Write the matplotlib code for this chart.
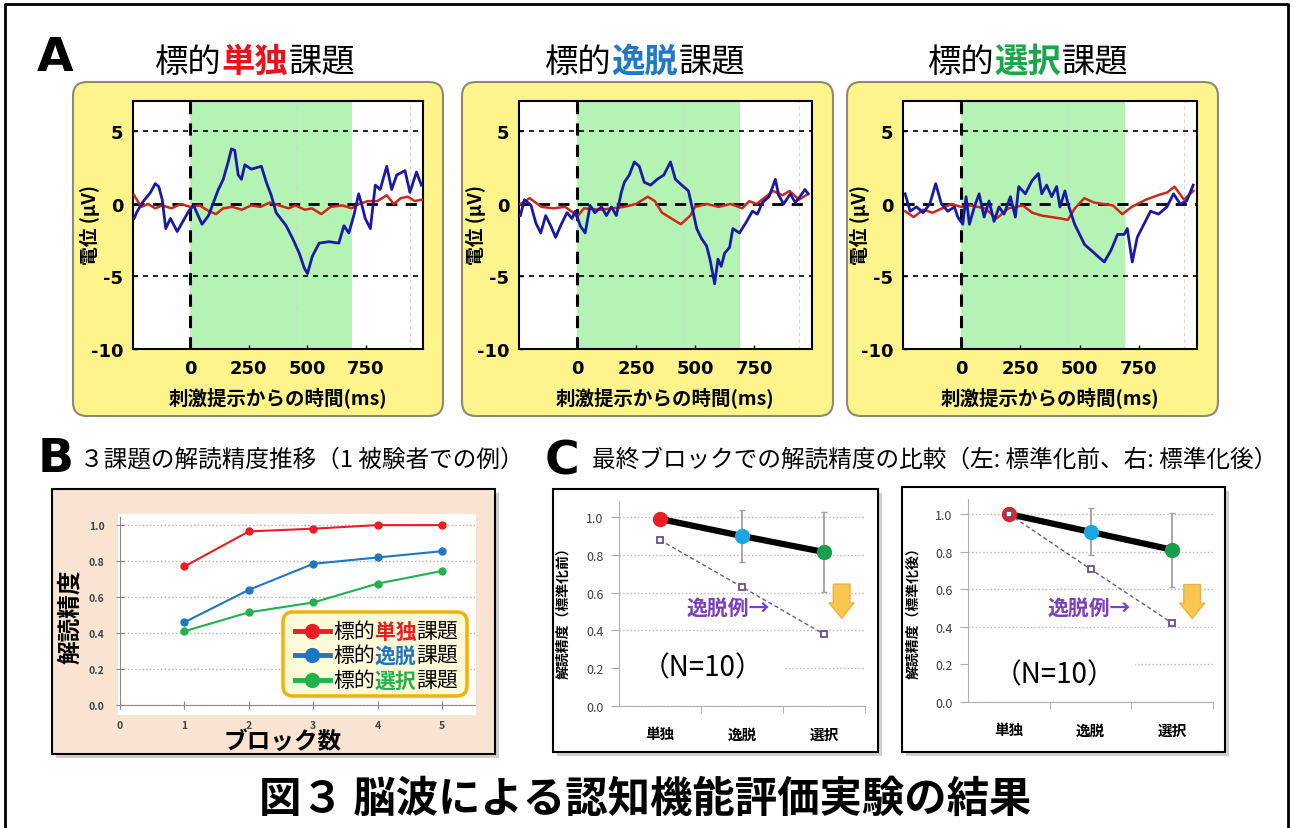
import matplotlib

matplotlib.use("Agg")
import matplotlib.pyplot as plt
from matplotlib import font_manager
from matplotlib.patches import FancyBboxPatch, Rectangle

W, H = 1293, 829
plt.rcParams['font.family'] = ['Noto Sans CJK JP', 'DejaVu Sans']
plt.rcParams['axes.unicode_minus'] = False

_installed = {f.name for f in font_manager.fontManager.ttflist}
NUM_FONT = 'Liberation Sans Narrow' if 'Liberation Sans Narrow' in _installed else 'DejaVu Sans'

# ---------------- data ----------------
# Panel A: averaged waveforms, time (ms) / potential (uV)
t_single_blue = [-240, -230, -205, -170, -150, -135, -120, -105, -85, -56, -35, -7, 14, 50, 78, 99, 120,
                 141, 162, 176, 190, 205, 219, 233, 261, 304, 325, 346, 367, 410, 438, 466, 487, 501,
                 522, 551, 593, 635, 657, 678, 699, 720, 734, 748, 770, 791, 812, 840, 861, 883, 918,
                 939, 967, 988]
v_single_blue = [-1.0, -0.6, 0.1, 0.8, 1.4, 1.2, 0.3, -1.7, -1.0, -1.9, -1.3, -0.5, -0.1, -1.4, -0.8,
                 0.1, 1.0, 1.7, 2.9, 3.8, 3.7, 2.0, 1.7, 2.7, 2.4, 2.6, 1.5, 0.6, -0.6, -1.5, -2.4,
                 -3.4, -4.4, -4.8, -3.6, -2.7, -2.6, -2.7, -1.5, -2.0, -0.8, 0.7, -0.1, -1.0, -1.7,
                 1.3, 1.0, 2.6, 1.0, 2.0, 2.3, 0.8, 2.2, 1.3]
t_single_red = [-240, -210, -180, -150, -120, -80, -40, 0, 40, 80, 110, 140, 180, 220, 260, 300, 340,
                380, 420, 450, 490, 520, 560, 600, 650, 690, 720, 760, 800, 840, 870, 900, 930, 960, 990]
v_single_red = [0.6, -0.2, 0.0, -0.3, -0.1, -0.3, 0.0, -0.2, -0.1, -0.5, -0.7, -0.3, -0.2, -0.4, -0.1,
                -0.2, 0.1, -0.1, -0.3, -0.1, -0.4, -0.3, -0.7, -0.2, -0.1, -0.3, 0.0, 0.2, 0.2, 0.6,
                0.0, 0.4, 0.5, 0.2, 0.3]

t_deviant_blue = [-239, -222, -194, -174, -153, -132, -111, -90, -69, -42, -21, -7, 14, 35, 56, 76, 104,
                  125, 146, 167, 188, 201, 222, 243, 264, 285, 312, 340, 368, 396, 417, 444, 472, 486,
                  507, 528, 549, 563, 583, 597, 611, 625, 646, 660, 688, 715, 743, 764, 785, 813, 840,
                  854, 875, 903, 924, 944, 965, 979]
v_deviant_blue = [-0.8, 0.3, -0.1, -1.3, -2.0, -0.8, -1.5, -2.3, -1.5, -0.6, -1.0, -0.5, -1.5, -2.0,
                  -0.1, -0.6, -0.2, -0.8, -0.2, -0.8, 0.8, 1.5, 2.0, 2.9, 2.6, 1.5, 1.3, 1.7, 2.0, 2.9,
                  1.7, 1.3, 0.9, -0.1, -1.7, -2.4, -2.9, -3.8, -5.5, -3.8, -4.3, -3.4, -3.0, -1.7,
                  -2.0, -1.3, -0.5, -0.7, 0.1, 0.5, 1.7, 0.6, 0.0, 0.7, 0.1, 0.5, 1.0, 0.7]
t_deviant_red = [-239, -200, -150, -100, -50, -15, 0, 30, 100, 200, 250, 300, 330, 360, 400, 440, 480,
                 500, 550, 600, 650, 700, 730, 760, 800, 830, 870, 900, 940, 970]
v_deviant_red = [0.0, 0.4, -0.2, -0.3, -0.2, -0.6, -0.9, -0.3, -0.4, -0.2, 0.0, 0.5, 0.2, -0.6, -1.0,
                 -1.4, -0.8, -0.2, 0.0, -0.2, 0.0, -0.3, 0.2, 0.0, 0.5, 0.9, 0.6, 0.9, 0.3, 0.6]

t_select_blue = [-236, -215, -188, -160, -132, -107, -83, -56, -28, -14, 7, 21, 35, 56, 76, 97, 118,
                 139, 160, 181, 208, 229, 243, 271, 299, 326, 340, 361, 382, 403, 417, 438, 451, 479,
                 500, 521, 549, 576, 604, 632, 660, 688, 701, 722, 743, 771, 799, 833, 868, 896, 924,
                 951, 979]
v_select_blue = [0.7, -0.5, -0.2, -0.6, 0.0, 1.4, 0.0, -0.5, -0.2, -0.9, -1.4, 0.5, -1.4, -0.2, 0.7,
                 -0.9, 0.2, -1.2, -0.2, -0.7, 0.5, -0.9, 1.2, 0.7, 1.6, 2.1, 0.7, 1.3, 0.5, 1.2, -0.2,
                 0.9, 0.0, -1.4, -2.1, -2.8, -3.2, -3.6, -4.0, -3.2, -2.1, -2.1, -1.7, -4.0, -2.3,
                 -1.4, -0.5, -0.7, -0.2, 0.7, 0.0, 0.2, 1.3]
t_select_red = [-236, -200, -160, -120, -80, -40, 0, 40, 100, 150, 200, 260, 300, 340, 380, 420, 450,
                480, 520, 560, 600, 640, 680, 720, 780, 830, 870, 900, 940, 980]
v_select_red = [-0.5, -0.9, -0.4, -0.6, -0.3, 0.0, -0.2, -0.1, -0.3, -1.0, -0.3, -0.1, -0.6, -0.8,
                -0.9, -1.0, -1.1, -0.3, 0.4, 0.1, 0.0, -0.1, -0.7, -0.2, 0.3, 0.6, 0.8, 1.2, 0.3, 0.9]

# Panel B: decoding accuracy per block (one subject)
blocks = [1, 2, 3, 4, 5]
acc_single = [0.77, 0.965, 0.98, 1.0, 1.0]
acc_deviant = [0.46, 0.64, 0.785, 0.82, 0.855]
acc_select = [0.41, 0.515, 0.57, 0.675, 0.745]

# Panel C: final-block accuracy (N=10), before / after normalisation
tasks = ['単独', '逸脱', '選択']
before_mean = [0.99, 0.9, 0.815]
before_err = [0.0, 0.137, 0.21]
before_example = [0.878, 0.63, 0.38]
after_mean = [1.0, 0.905, 0.81]
after_err = [0.0, 0.125, 0.197]
after_example = [1.0, 0.707, 0.42]

RED, BLUE, GREEN = '#e8141c', '#1f78c8', '#1aa74a'

fig = plt.figure(figsize=(W / 100, H / 100), dpi=100)


def px_axes(x0, y0, x1, y1):
    return fig.add_axes([x0 / W, 1 - y1 / H, (x1 - x0) / W, (y1 - y0) / H])


def px_canvas():
    ax = fig.add_axes([0, 0, 1, 1])
    ax.set_xlim(0, W)
    ax.set_ylim(H, 0)
    ax.axis('off')
    return ax


# background: frame, rounded boxes, shadows
bg = px_canvas()
bg.plot([5, 5, 1288, 1288], [829, 5, 5, 829], color='black', lw=2)
for x0, x1 in [(73, 443), (462, 833), (847, 1218)]:
    bg.add_patch(FancyBboxPatch((x0, 83), x1 - x0, 334, boxstyle='round,pad=0,rounding_size=14',
                                fc='#fdf58c', ec='#8f8a70', lw=1.5))
for (x0, y0, x1, y1), fc in [((52, 490, 495, 755), '#f9e4d2'), ((553, 490, 878, 753), 'white'),
                             ((902, 488, 1225, 753), 'white')]:
    bg.add_patch(Rectangle((x0 + 4, y0 + 4), x1 - x0, y1 - y0, fc='#b0b0b0', ec='none', alpha=0.6))
    bg.add_patch(Rectangle((x0, y0), x1 - x0, y1 - y0, fc=fc, ec='black', lw=1.5))
bg.add_patch(Rectangle((118, 515), 358, 201, fc='white', ec='none'))


# ---------------- panel A ----------------
def draw_erp(ax, tb, vb, tr, vr):
    ax.axvspan(0, 690, color='#b4f3b4', lw=0, zorder=0)
    for xv in (450, 940):
        ax.axvline(xv, color='#d5d5d5', ls=(0, (3, 3)), lw=0.8, zorder=0.5)
    for yv in (5, -5):
        ax.axhline(yv, color='black', ls=(0, (3, 3)), lw=1.2, zorder=1)
    ax.axhline(0, color='black', ls=(0, (4, 3)), lw=2, zorder=1)
    ax.axvline(0, color='black', ls=(0, (4, 3)), lw=2.2, zorder=1)
    ax.plot(tr, vr, color='#d02818', lw=1.8, zorder=3)
    ax.plot(tb, vb, color='#1a1aa6', lw=2, zorder=4)
    ax.set_xlim(-245, 995)
    ax.set_ylim(-10, 7.1)
    ax.set_xticks([0, 250, 500, 750])
    ax.set_yticks([-10, -5, 0, 5])
    ax.tick_params(direction='in', length=3, width=1, pad=7)
    for lab in ax.get_xticklabels() + ax.get_yticklabels():
        lab.set_fontfamily(NUM_FONT)
        lab.set_fontweight('bold')
        lab.set_fontsize(13)
    for s in ax.spines.values():
        s.set_linewidth(1.5)


draw_erp(px_axes(133, 102, 423, 350), t_single_blue, v_single_blue, t_single_red, v_single_red)
draw_erp(px_axes(519, 102, 812, 350), t_deviant_blue, v_deviant_blue, t_deviant_red, v_deviant_red)
draw_erp(px_axes(903, 102, 1197, 350), t_select_blue, v_select_blue, t_select_red, v_select_red)

# ---------------- panel B ----------------
axb = px_axes(120, 518, 475, 706)
axb.set_facecolor('none')
for ys, col in [(acc_single, '#ec1c24'), (acc_deviant, '#1f77c4'), (acc_select, '#22b14c')]:
    axb.plot(blocks, ys, color=col, lw=1.5, marker='o', ms=5, zorder=3)
axb.set_xlim(0, 5.51)
axb.set_ylim(0, 1.045)
axb.set_xticks([0, 1, 2, 3, 4, 5])
axb.set_yticks([0.0, 0.2, 0.4, 0.6, 0.8, 1.0])
axb.yaxis.set_major_formatter(lambda v, p: f'{v:.1f}')
axb.grid(axis='y', color='#b0b0b0', ls=':', lw=1)
axb.tick_params(direction='inout', length=6, color='#888888', pad=8, labelsize=7.5, labelcolor='#444444')
for lab in axb.get_xticklabels() + axb.get_yticklabels():
    lab.set_fontweight('bold')
for side in ('top', 'right'):
    axb.spines[side].set_visible(False)
for side in ('left', 'bottom'):
    axb.spines[side].set_color('#8a8a8a')


# ---------------- panel C ----------------
def draw_final(ax, mean, err, example, top, n_pos, mask_w):
    x = range(len(tasks))
    ax.errorbar(x, mean, yerr=err, fmt='none', ecolor='#a0a0a0', elinewidth=1.3, capsize=2, zorder=2)
    ax.plot(x, mean, color='black', lw=4.5, zorder=3)
    for xi, yi, col in zip(x, mean, ['#ee1c25', '#1aa7e0', '#1b9e4b']):
        ax.plot(xi, yi, 'o', color=col, ms=10, zorder=4)
    ax.plot(x, example, color='#6a5a94', ls=(0, (3, 2)), lw=1, marker='s', ms=4.5,
            mfc='white', mec='#6a4c93', mew=1.3, zorder=5)
    ax.set_xlim(-0.5, 2.5)
    ax.set_ylim(0, top)
    ax.set_xticks(list(x))
    ax.set_xticklabels(tasks, fontsize=10.5, fontweight='bold')
    ax.set_xticks([0.5, 1.5, 2.5], minor=True)
    ax.tick_params(axis='x', which='major', length=0, pad=14)
    ax.tick_params(axis='x', which='minor', length=5, color='#aaaaaa')
    ax.set_yticks([0.0, 0.2, 0.4, 0.6, 0.8, 1.0])
    ax.yaxis.set_major_formatter(lambda v, p: f'{v:.1f}')
    ax.tick_params(axis='y', length=6, color='#aaaaaa', labelsize=9, labelcolor='#404040', pad=5)
    ax.grid(axis='y', color='#b8b8b8', ls=':', lw=1)
    ax.set_facecolor('none')
    for side in ('top', 'right'):
        ax.spines[side].set_visible(False)
    for side in ('left', 'bottom'):
        ax.spines[side].set_color('#b0b0b0')
    # white box behind the N label hides the 0.2 grid line like the original
    ax.add_patch(Rectangle((0, 0.09), mask_w, 0.19, transform=ax.transAxes, fc='white', ec='none',
                           zorder=1.6))
    ax.text(n_pos[0], n_pos[1], '（N=10）', fontsize=20, ha='center', va='center', zorder=6,
            transform=ax.transAxes)
    return ax


arrow_style = 'simple,head_width=1.8,head_length=1.1,tail_width=1.2'

axc1 = draw_final(px_axes(619, 502, 865, 707), before_mean, before_err, before_example, 1.085,
                  (0.34, 0.19), 0.667)
axc1.text(0.33, 0.524, '逸脱例→', color='#7b3fbf', fontsize=15, fontweight='bold', va='center', zorder=6)
axc1.annotate('', xy=(2.215, 0.45), xytext=(2.215, 0.66),
              arrowprops=dict(arrowstyle=arrow_style, fc='#f9c74f', ec='#eeb040', mutation_scale=10))
axc2 = draw_final(px_axes(968, 500, 1213, 703), after_mean, after_err, after_example, 1.08,
                  (0.355, 0.138), 0.68)
axc2.text(0.47, 0.505, '逸脱例→', color='#7b3fbf', fontsize=15, fontweight='bold', va='center', zorder=6)
axc2.annotate('', xy=(2.245, 0.43), xytext=(2.245, 0.64),
              arrowprops=dict(arrowstyle=arrow_style, fc='#f9c74f', ec='#eeb040', mutation_scale=10))

# ---------------- overlay texts ----------------
ov = px_canvas()
renderer = fig.canvas.get_renderer()


def colored_text(x, y, pieces, size, ha='left'):
    widths = []
    for s, c, w in pieces:
        t = ov.text(0, 0, s, fontsize=size, fontweight=w)
        widths.append(t.get_window_extent(renderer).width)
        t.remove()
    x0 = x - sum(widths) / 2 if ha == 'center' else x
    for (s, c, w), wd in zip(pieces, widths):
        ov.text(x0, y, s, color=c, fontsize=size, fontweight=w, va='center', ha='left')
        x0 += wd


for cx, word, col in [(255, '単独', RED), (645, '逸脱', BLUE), (1028, '選択', GREEN)]:
    colored_text(cx, 62, [('標的', 'black', 'normal'), (word, col, 'bold'), ('課題', 'black', 'normal')],
                 24, ha='center')

for xl, xc in [(90, 278), (476, 665), (860, 1050)]:
    ov.text(xl, 225, '電位 (μV)', rotation=90, fontsize=13.5, fontweight='bold', ha='center', va='center')
    ov.text(xc, 398, '刺激提示からの時間(ms)', fontsize=14, fontweight='bold', ha='center', va='center')

for x, y, s in [(55, 58, 'A'), (56, 460, 'B'), (562, 462, 'C')]:
    ov.text(x, y, s, fontsize=34, fontweight='heavy', family='DejaVu Sans', ha='center', va='center')

ov.text(80, 460, '３課題の解読精度推移（1 被験者での例）', fontsize=17, va='center', ha='left')
ov.text(592, 460, '最終ブロックでの解読精度の比較（左: 標準化前、右: 標準化後）', fontsize=17,
        va='center', ha='left')

ov.text(70, 617, '解読精度', rotation=90, fontsize=17, fontweight='bold', ha='center', va='center')
ov.text(283, 742, 'ブロック数', fontsize=17, fontweight='bold', ha='center', va='center')
ov.text(563, 610, '解読精度（標準化前）', rotation=90, fontsize=10, fontweight='bold',
        ha='center', va='center')
ov.text(913, 610, '解読精度（標準化後）', rotation=90, fontsize=10, fontweight='bold',
        ha='center', va='center')

# legend of panel B
ov.add_patch(FancyBboxPatch((283, 613), 184, 84, boxstyle='round,pad=0,rounding_size=10',
                            fc='#fffbd8', ec='#f2b10a', lw=2.5))
for y, word, col in [(632, '単独', '#ec1c24'), (656, '逸脱', '#1f77c4'), (681, '選択', '#22b14c')]:
    ov.plot([295, 330], [y, y], color=col, lw=3.5)
    ov.plot([312], [y], 'o', color=col, ms=10)
    colored_text(333, y, [('標的', 'black', 'normal'), (word, col, 'bold'), ('課題', 'black', 'normal')], 15)

ov.text(645, 800, '図３ 脳波による認知機能評価実験の結果', fontsize=30.5, fontweight='bold',
        ha='center', va='center')

fig.savefig('out.png', dpi=100)
